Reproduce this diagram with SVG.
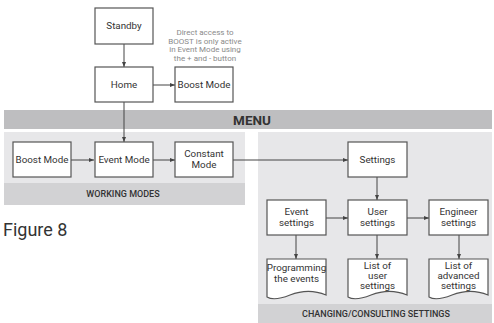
<svg xmlns="http://www.w3.org/2000/svg" width="494" height="323" viewBox="0 0 494 323">
<defs>
<marker id="ah" markerWidth="6" markerHeight="6" refX="5" refY="3" orient="auto" markerUnits="userSpaceOnUse">
<path d="M0,1 L5,3 L0,5 z" fill="#444"/>
</marker>
<style>
.box{fill:#fff;stroke:#555;stroke-width:1.2}
.t{font-family:Roboto,"Liberation Sans",sans-serif;font-size:9.8px;fill:#333;text-anchor:middle}
.note{font-family:Roboto,"Liberation Sans",sans-serif;font-size:8px;fill:#8a8a8a;text-anchor:middle}
.band{font-family:Roboto,"Liberation Sans",sans-serif;font-size:9px;font-weight:500;fill:#333;text-anchor:middle}
.c{stroke:#444;stroke-width:1;fill:none;marker-end:url(#ah)}
</style>
</defs>
<rect width="494" height="323" fill="#fff"/>
<g id="panels">
<rect x="4" y="110" width="488" height="19" fill="#bebec0"/>
<text x="252" y="125" font-family="Roboto,'Liberation Sans',sans-serif" font-size="13.5" font-weight="bold" fill="#333" text-anchor="middle">MENU</text>
<rect x="4" y="132" width="241" height="51" fill="#e7e7e9"/>
<rect x="4" y="183" width="241" height="22" fill="#d2d2d4"/>
<text class="band" x="123" y="197">WORKING MODES</text>
<rect x="258" y="132" width="234" height="172" fill="#e7e7e9"/>
<rect x="258" y="304" width="234" height="19" fill="#d2d2d4"/>
<text class="band" x="376" y="317">CHANGING/CONSULTING SETTINGS</text>
</g>
<text x="3" y="236" font-family="Roboto,'Liberation Sans',sans-serif" font-size="18" fill="#333">Figure 8</text>
<g id="note">
<text class="note" x="205" y="35">Direct access to</text>
<text class="note" x="205" y="43.5">BOOST is only active</text>
<text class="note" x="205" y="52">in Event Mode using</text>
<text class="note" x="205" y="60.5">the + and - button</text>
</g>
<g id="connectors">
<line class="c" x1="124" y1="44" x2="124" y2="67"/>
<line class="c" x1="153" y1="85" x2="175" y2="85"/>
<line class="c" x1="124" y1="102" x2="124" y2="142"/>
<line class="c" x1="71" y1="160" x2="94" y2="160"/>
<line class="c" x1="153" y1="160" x2="175" y2="160"/>
<line class="c" x1="233" y1="160" x2="348" y2="160"/>
<line class="c" x1="377" y1="177" x2="377" y2="200"/>
<line class="c" x1="326" y1="218" x2="348" y2="218"/>
<line class="c" x1="407" y1="218" x2="429" y2="218"/>
<line class="c" x1="296" y1="235" x2="296" y2="259"/>
<line class="c" x1="377" y1="235" x2="377" y2="259"/>
<line class="c" x1="459" y1="235" x2="459" y2="259"/>
</g>
<g id="standby"><rect class="box" x="95" y="8" width="58" height="36"/><text class="t" x="124" y="29">Standby</text></g>
<g id="home"><rect class="box" x="95" y="67" width="58" height="35"/><text class="t" x="124" y="88">Home</text></g>
<g id="boost1"><rect class="box" x="175" y="67" width="58" height="35"/><text class="t" x="204" y="88">Boost Mode</text></g>
<g id="boost2"><rect class="box" x="13" y="142" width="58" height="35"/><text class="t" x="42" y="163">Boost Mode</text></g>
<g id="event"><rect class="box" x="95" y="142" width="58" height="35"/><text class="t" x="124" y="163">Event Mode</text></g>
<g id="constant"><rect class="box" x="175" y="142" width="58" height="35"/><text class="t" x="204" y="157">Constant</text><text class="t" x="204" y="168">Mode</text></g>
<g id="settings"><rect class="box" x="348" y="142" width="59" height="35"/><text class="t" x="377.5" y="163">Settings</text></g>
<g id="eventsettings"><rect class="box" x="267" y="200" width="59" height="35"/><text class="t" x="296.5" y="215">Event</text><text class="t" x="296.5" y="226">settings</text></g>
<g id="usersettings"><rect class="box" x="348" y="200" width="59" height="35"/><text class="t" x="377.5" y="215">User</text><text class="t" x="377.5" y="226">settings</text></g>
<g id="engineersettings"><rect class="box" x="429" y="200" width="59" height="35"/><text class="t" x="458.5" y="215">Engineer</text><text class="t" x="458.5" y="226">settings</text></g>
<g id="programming"><path class="box" d="M267,259 H326 V295 C312,289 300,291 290,295 C280,299 272,300 267,297 Z"/><text class="t" x="296.5" y="271">Programming</text><text class="t" x="296.5" y="282">the events</text></g>
<g id="listuser"><path class="box" d="M348,259 H407 V295 C393,289 381,291 371,295 C361,299 353,300 348,297 Z"/><text class="t" x="377.5" y="269">List of</text><text class="t" x="377.5" y="279">user</text><text class="t" x="377.5" y="289">settings</text></g>
<g id="listadv"><path class="box" d="M429,259 H488 V295 C474,289 462,291 452,295 C442,299 434,300 429,297 Z"/><text class="t" x="458.5" y="269">List of</text><text class="t" x="458.5" y="279">advanced</text><text class="t" x="458.5" y="289">settings</text></g>
</svg>
